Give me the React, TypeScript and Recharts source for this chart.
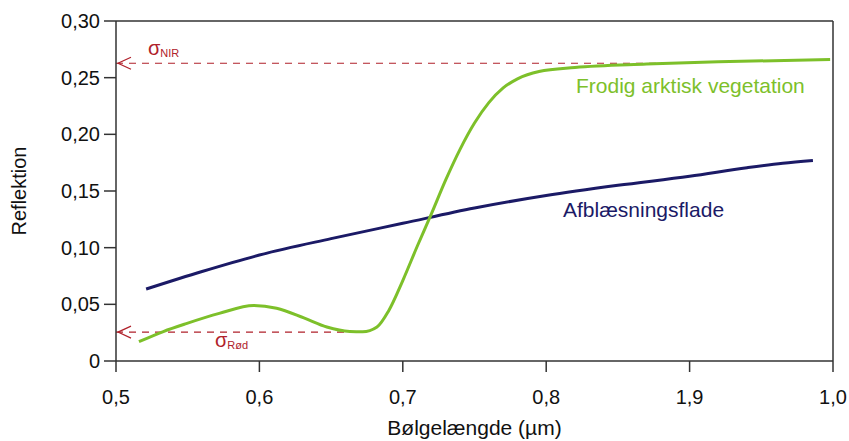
import { LineChart, Line, XAxis, YAxis, ReferenceLine, ReferenceDot, Label } from "recharts";

// axes
const wavelengthTicks = [0.5, 0.6, 0.7, 0.8, 0.9, 1.0];
const wavelengthLabels = ["0,5", "0,6", "0,7", "0,8", "1,9", "1,0"];
const reflectTicks = [0, 0.05, 0.1, 0.15, 0.2, 0.25, 0.3];
const reflectLabels = ["0", "0,05", "0,10", "0,15", "0,20", "0,25", "0,30"];

// Frodig arktisk vegetation
const vegWavelength = [
  0.516, 0.533, 0.549, 0.572, 0.596, 0.612, 0.631, 0.647, 0.663, 0.672, 0.682, 0.69, 0.7,
  0.71, 0.72, 0.73, 0.74, 0.75, 0.76, 0.77, 0.78, 0.795, 0.82, 0.87, 0.92, 0.998,
];
const vegReflect = [
  0.017, 0.026, 0.033, 0.042, 0.049, 0.0465, 0.038, 0.03, 0.026, 0.0257, 0.03, 0.044, 0.071,
  0.101, 0.13, 0.16, 0.187, 0.21, 0.228, 0.241, 0.249, 0.2555, 0.259, 0.262, 0.264, 0.266,
];

// Afblæsningsflade
const bareWavelength = [0.521, 0.56, 0.6, 0.65, 0.7, 0.75, 0.8, 0.85, 0.9, 0.94, 0.965, 0.986];
const bareReflect = [0.0635, 0.079, 0.0935, 0.108, 0.1215, 0.135, 0.146, 0.155, 0.163, 0.1705, 0.1745, 0.177];

// sigma reference levels
const sigmaNir = 0.2627;
const sigmaNirEnd = 0.9;
const sigmaRed = 0.0255;
const sigmaRedEnd = 0.665;

const vegData = vegWavelength.map((x, i) => ({ x, y: vegReflect[i] }));
const bareData = bareWavelength.map((x, i) => ({ x, y: bareReflect[i] }));

const GREEN = "#7dc02a";
const NAVY = "#1b1a66";
const RED = "#b0212b";
const AXIS = "#333";
const FONT = 20;

const arrowHead = (props: any) => (
  <path
    d={`M${props.cx + 15},${props.cy - 6} L${props.cx + 2},${props.cy} L${props.cx + 15},${props.cy + 6}`}
    fill="none"
    stroke={RED}
    strokeWidth={1.2}
  />
);

const textAt = (text: string, color: string) => (props: any) => (
  <text x={props.cx} y={props.cy} fill={color} fontSize={21}>
    {text}
  </text>
);

const sigmaAt = (sub: string) => (props: any) => (
  <text x={props.cx} y={props.cy} fill={RED} fontSize={FONT}>
    σ
    <tspan fontSize={11} dy={2}>
      {sub}
    </tspan>
  </text>
);

export default function App() {
  return (
    <div style={{ position: "absolute", left: 0, top: 0, fontFamily: "'Liberation Sans', Arial, sans-serif" }}>
      <LineChart width={849} height={441} margin={{ top: 21, right: 16, bottom: 0, left: 0 }}>
        <XAxis
          dataKey="x"
          type="number"
          domain={[0.5, 1.0]}
          ticks={wavelengthTicks}
          tickFormatter={(v: number) => wavelengthLabels[wavelengthTicks.indexOf(v)]}
          height={80}
          tickSize={11}
          tickMargin={18}
          stroke={AXIS}
          strokeWidth={1.5}
          tick={{ fill: "#111", fontSize: FONT }}
          allowDataOverflow
        >
          <Label
            content={({ viewBox }: any) => (
              <text x={viewBox.x + viewBox.width / 2} y={viewBox.y + 74} textAnchor="middle" fill="#111" fontSize={21}>
                Bølgelængde (µm)
              </text>
            )}
          />
        </XAxis>
        <YAxis
          type="number"
          domain={[0, 0.3]}
          ticks={reflectTicks}
          tickFormatter={(v: number) => reflectLabels[reflectTicks.indexOf(v)]}
          width={116}
          tickSize={12}
          tickMargin={4}
          stroke={AXIS}
          strokeWidth={1.5}
          tick={{ fill: "#111", fontSize: FONT }}
          allowDataOverflow
        >
          <Label
            content={({ viewBox }: any) => {
              const cx = viewBox.x + 26;
              const cy = viewBox.y + viewBox.height / 2;
              return (
                <text x={cx} y={cy} transform={`rotate(-90 ${cx} ${cy})`} textAnchor="middle" fill="#111" fontSize={FONT}>
                  Reflektion
                </text>
              );
            }}
          />
        </YAxis>
        <ReferenceLine y={0.3} stroke={AXIS} strokeWidth={1.5} />
        <ReferenceLine x={1.0} stroke={AXIS} strokeWidth={1.5} />
        <ReferenceLine
          segment={[{ x: 0.5, y: sigmaNir }, { x: sigmaNirEnd, y: sigmaNir }]}
          stroke={RED}
          strokeWidth={1.2}
          strokeDasharray="7 6"
        />
        <ReferenceLine
          segment={[{ x: 0.5, y: sigmaRed }, { x: sigmaRedEnd, y: sigmaRed }]}
          stroke={RED}
          strokeWidth={1.2}
          strokeDasharray="7 6"
        />
        <ReferenceDot x={0.5} y={sigmaNir} shape={arrowHead} />
        <ReferenceDot x={0.5} y={sigmaRed} shape={arrowHead} />
        <ReferenceDot x={0.5223} y={0.27} shape={sigmaAt("NIR")} />
        <ReferenceDot x={0.569} y={0.0126} shape={sigmaAt("Rød")} />
        <ReferenceDot x={0.8208} y={0.2365} shape={textAt("Frodig arktisk vegetation", GREEN)} />
        <ReferenceDot x={0.8117} y={0.1273} shape={textAt("Afblæsningsflade", NAVY)} />
        <Line
          data={bareData}
          dataKey="y"
          type="monotone"
          stroke={NAVY}
          strokeWidth={3}
          dot={false}
          isAnimationActive={false}
        />
        <Line
          data={vegData}
          dataKey="y"
          type="monotone"
          stroke={GREEN}
          strokeWidth={3}
          dot={false}
          isAnimationActive={false}
        />
      </LineChart>
    </div>
  );
}
